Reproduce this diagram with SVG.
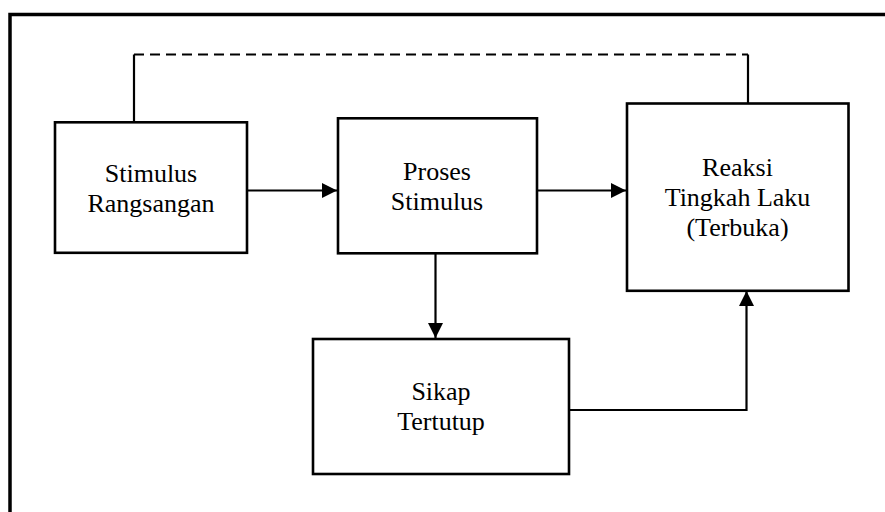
<svg xmlns="http://www.w3.org/2000/svg" width="885" height="512" viewBox="0 0 885 512">
  <style>
    .frame { fill: none; stroke: #000; stroke-width: 3.5; }
    .box { fill: #fff; stroke: #000; stroke-width: 2.6; }
    .label { font-size: 26px; fill: #000; text-anchor: middle; }
    .link { fill: none; stroke: #000; stroke-width: 2.2; }
    .dashed { stroke-dasharray: 10 6; }
  </style>
  <defs>
    <marker id="arrow" viewBox="0 0 10 10" refX="10" refY="5" markerWidth="15" markerHeight="15" markerUnits="userSpaceOnUse" orient="auto">
      <path d="M0,0 L10,5 L0,10 Z" fill="#000"/>
    </marker>
  </defs>
  <rect width="885" height="512" fill="#fff"/>

  <!-- outer frame, running past the right and bottom edges -->
  <rect class="frame" x="10" y="14.5" width="900" height="520"/>

  <g id="connectors">
    <!-- feedback: Stimulus Rangsangan up and over to Reaksi -->
    <path class="link" d="M134,122 V54.5"/>
    <path class="link dashed" d="M134,54.5 H748"/>
    <path class="link" d="M748,54.5 V103"/>
    <!-- Stimulus Rangsangan -> Proses Stimulus -->
    <path class="link" d="M247,190.5 H337" marker-end="url(#arrow)"/>
    <!-- Proses Stimulus -> Reaksi Tingkah Laku -->
    <path class="link" d="M537,190.5 H626" marker-end="url(#arrow)"/>
    <!-- Proses Stimulus -> Sikap Tertutup -->
    <path class="link" d="M435.5,254 V338" marker-end="url(#arrow)"/>
    <!-- Sikap Tertutup -> Reaksi Tingkah Laku -->
    <path class="link" d="M569,410 H746.5 V291" marker-end="url(#arrow)"/>
  </g>

  <g font-family="'Liberation Serif', 'DejaVu Serif', serif">
    <g id="stimulus-rangsangan">
      <rect class="box" x="55" y="122.3" width="192" height="130.5"/>
      <text class="label" x="151" y="182">Stimulus</text>
      <text class="label" x="151" y="212">Rangsangan</text>
    </g>

    <g id="proses-stimulus">
      <rect class="box" x="338" y="118.3" width="199" height="135"/>
      <text class="label" x="437" y="180">Proses</text>
      <text class="label" x="437" y="210">Stimulus</text>
    </g>

    <g id="reaksi-tingkah-laku">
      <rect class="box" x="627" y="103.5" width="221.5" height="187.3"/>
      <text class="label" x="737.5" y="176">Reaksi</text>
      <text class="label" x="737.5" y="206">Tingkah Laku</text>
      <text class="label" x="737.5" y="236">(Terbuka)</text>
    </g>

    <g id="sikap-tertutup">
      <rect class="box" x="313" y="339" width="256" height="135"/>
      <text class="label" x="441" y="400">Sikap</text>
      <text class="label" x="441" y="430">Tertutup</text>
    </g>
  </g>
</svg>
